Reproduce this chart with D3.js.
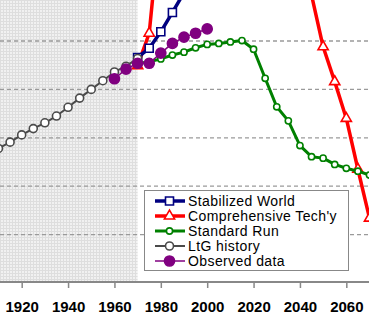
<!DOCTYPE html>
<html>
<head>
<meta charset="utf-8">
<script src="https://cdn.jsdelivr.net/npm/d3@7"></script>
<style>
  body { margin: 0; background: #fff; }
  svg { display: block; font-family: "Liberation Sans", Arial, sans-serif; }
</style>
</head>
<body>
<svg id="chart" width="369" height="322"></svg>
<script>
// values
const tickYears = [1920, 1940, 1960, 1980, 2000, 2020, 2040, 2060];
const gridValues = [1, 2, 3, 4, 5];
const historyEnd = 1970;

const stabYears = [1970, 1975, 1980, 1985, 1990, 1995, 2000];
const stabValues = [4.66, 4.85, 5.19, 5.59, 6.0, 6.4, 6.7];

const techYears = [1970, 1975, 1980, 1985, 1990, 1995, 2000, 2005, 2010, 2015, 2020,
  2025, 2030, 2035, 2040, 2045, 2050, 2055, 2060, 2065, 2070];
const techValues = [4.49, 5.16, 7.6, 8.6, 9.2, 9.6, 9.9, 10.0, 9.9, 9.7, 9.4,
  9.0, 8.4, 7.7, 6.9, 5.95, 4.88, 4.16, 3.40, 2.35, 1.34];

const standardYears = [1970, 1975, 1980, 1985, 1990, 1995, 2000, 2005, 2010, 2015, 2020,
  2025, 2030, 2035, 2040, 2045, 2050, 2055, 2060, 2065, 2070];
const standardValues = [4.53, 4.57, 4.63, 4.71, 4.77, 4.86, 4.93, 4.95, 4.98, 5.01, 4.83,
  4.23, 3.64, 3.35, 2.84, 2.61, 2.58, 2.45, 2.37, 2.31, 2.23];

const historyYears = [1910, 1915, 1920, 1925, 1930, 1935, 1940, 1945, 1950, 1955, 1960, 1965, 1970];
const historyValues = [2.78, 2.91, 3.06, 3.19, 3.31, 3.45, 3.63, 3.82, 4.00, 4.18, 4.36, 4.48, 4.64];

const observedYears = [1960, 1965, 1970, 1975, 1980, 1985, 1990, 1995, 2000];
const observedValues = [4.22, 4.42, 4.54, 4.54, 4.75, 4.95, 5.08, 5.16, 5.25];

const width = 369;
const plotBottom = 283;

const x = d3.scaleLinear().domain([1910, 2070]).range([-1.5, 369.5]);
const y = d3.scaleLinear().domain([0, 5]).range([283, 41]);

const series = [
  { name: "Comprehensive Tech'y", years: techYears, values: techValues, color: "#ff0000", width: 3.5,
    symbol: d3.symbolTriangle, size: 45, fill: "#fff" },
  { name: "Stabilized World", years: stabYears, values: stabValues, color: "#000080", width: 3.5,
    symbol: d3.symbolSquare, size: 64, fill: "#fff" },
  { name: "Standard Run", years: standardYears, values: standardValues, color: "#008000", width: 3,
    symbol: d3.symbolCircle, size: 30, fill: "#fff" },
  { name: "LtG history", years: historyYears, values: historyValues, color: "#4a4a4a", width: 2,
    symbol: d3.symbolCircle, size: 50, fill: "#fff" },
  { name: "Observed data", years: observedYears, values: observedValues, color: "#800080", width: 1.5,
    symbol: d3.symbolCircle, size: 80, fill: "#800080" }
];
const legendOrder = ["Stabilized World", "Comprehensive Tech'y", "Standard Run", "LtG history", "Observed data"];

const svg = d3.select("#chart");
const defs = svg.append("defs");

const pat = defs.append("pattern")
  .attr("id", "shade")
  .attr("patternUnits", "userSpaceOnUse")
  .attr("width", 3).attr("height", 3);
pat.append("rect").attr("width", 3).attr("height", 3).attr("fill", "#f1f1f1");
pat.append("path").attr("d", "M0 0.5H3M0.5 0V3").attr("stroke", "#dedede").attr("stroke-width", 1);

defs.append("clipPath").attr("id", "plot")
  .append("rect").attr("x", 0).attr("y", 0).attr("width", width).attr("height", plotBottom);

// shaded history period
svg.append("rect")
  .attr("x", 0).attr("y", 0)
  .attr("width", x(historyEnd)).attr("height", plotBottom - 1)
  .attr("fill", "url(#shade)");

// dashed grid
svg.append("g")
  .selectAll("line")
  .data(gridValues)
  .join("line")
  .attr("x1", 0).attr("x2", width)
  .attr("y1", d => y(d)).attr("y2", d => y(d))
  .attr("stroke", "#9a9a9a")
  .attr("stroke-width", 1.3)
  .attr("stroke-dasharray", "4,3");

// series
const plot = svg.append("g").attr("clip-path", "url(#plot)");
const line = d3.line().x(d => x(d[0])).y(d => y(d[1]));

series.forEach(s => {
  const pts = s.years.map((yr, i) => [yr, s.values[i]]);
  const g = plot.append("g");
  g.append("path")
    .attr("d", line(pts))
    .attr("fill", "none")
    .attr("stroke", s.color)
    .attr("stroke-width", s.width)
    .attr("stroke-linejoin", "round");
  g.selectAll("path.mark")
    .data(pts)
    .join("path")
    .attr("class", "mark")
    .attr("transform", d => `translate(${x(d[0])},${y(d[1])})`)
    .attr("d", d3.symbol().type(s.symbol).size(s.size))
    .attr("fill", s.fill)
    .attr("stroke", s.color)
    .attr("stroke-width", 1.6);
});

// x axis
const axis = svg.append("g")
  .attr("transform", "translate(0,282)")
  .call(d3.axisBottom(x).tickValues(tickYears).tickSize(6).tickPadding(13).tickFormat(d3.format("d")));
axis.select(".domain").remove();
axis.append("line")
  .attr("x1", 0).attr("x2", width)
  .attr("stroke", "#888").attr("stroke-width", 2);
axis.selectAll(".tick line").attr("stroke", "#888").attr("stroke-width", 1.5);
axis.selectAll(".tick text")
  .attr("fill", "#000")
  .style("font-size", "15px")
  .style("font-weight", "bold")
  .style("font-family", "'Liberation Sans', Arial, sans-serif");

// legend
const legend = svg.append("g");
legend.append("rect")
  .attr("x", 144.5).attr("y", 190.5)
  .attr("width", 204).attr("height", 80)
  .attr("fill", "#fff")
  .attr("stroke", "#888");

legendOrder.forEach((name, i) => {
  const s = series.find(d => d.name === name);
  const ly = 201 + i * 15;
  const row = legend.append("g").attr("transform", `translate(0,${ly})`);
  row.append("line")
    .attr("x1", 155).attr("x2", 185)
    .attr("stroke", s.color)
    .attr("stroke-width", s.width);
  row.append("path")
    .attr("transform", "translate(169.5,0)")
    .attr("d", d3.symbol().type(s.symbol).size(s.size)())
    .attr("fill", s.fill)
    .attr("stroke", s.color)
    .attr("stroke-width", 1.6);
  row.append("text")
    .attr("x", 188)
    .attr("dy", "0.35em")
    .attr("fill", "#000")
    .style("font-size", "14px")
    .style("letter-spacing", "0.4px")
    .text(name);
});
</script>
</body>
</html>
